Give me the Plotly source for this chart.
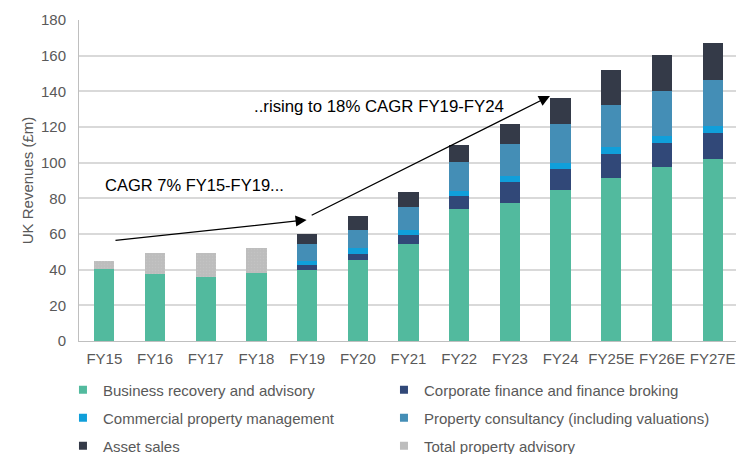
import plotly.graph_objects as go

years = ["FY15", "FY16", "FY17", "FY18", "FY19", "FY20", "FY21",
         "FY22", "FY23", "FY24", "FY25E", "FY26E", "FY27E"]

# UK revenues by segment (GBPm)
business_recovery = [40.5, 37.6, 35.9, 38.1, 39.8, 45.6, 54.2, 73.8, 77.2, 84.7, 91.6, 97.4, 102.1]
corporate_finance = [None, None, None, None, 2.6, 3.2, 5.2, 7.5, 12.1, 11.6, 13.3, 13.8, 14.7]
commercial_property = [None, None, None, None, 2.5, 3.2, 2.8, 2.6, 3.4, 3.3, 3.9, 3.9, 3.9]
property_consultancy = [None, None, None, None, 9.3, 10.2, 12.8, 16.3, 18.0, 21.9, 23.5, 25.1, 25.7]
asset_sales = [None, None, None, None, 5.8, 8.1, 8.6, 9.7, 10.8, 14.9, 19.7, 20.0, 20.5]
total_property_advisory = [4.4, 11.9, 13.6, 13.9, None, None, None, None, None, None, None, None, None]

# (name, values, colour, legend slot) - legend laid out as a 2-column grid
series = [
    ("Business recovery and advisory", business_recovery, "#52BA9E", 0, 0),
    ("Corporate finance and finance broking", corporate_finance, "#314878", 1, 0),
    ("Commercial property management", commercial_property, "#109FDA", 0, 1),
    ("Property consultancy (including valuations)", property_consultancy, "#448EB6", 1, 1),
    ("Asset sales", asset_sales, "#343A48", 0, 2),
    ("Total property advisory", total_property_advisory, "#BDBDBD", 1, 2),
]

FONT = "Liberation Sans, Arial, sans-serif"
GREY_TEXT = "#595959"

legend_cols = [-0.0244, 0.4642]
legend_rows = [-0.1526, -0.2399, -0.3271]

fig = go.Figure()
legend_layout = {}

for i, (name, values, color, col, row) in enumerate(series):
    marker = dict(color=color, line=dict(width=0))
    if name == "Total property advisory":
        marker["pattern"] = dict(shape=".", fgcolor="#C9C9C9", bgcolor=color,
                                 size=3, solidity=0.2)
    fig.add_trace(go.Bar(x=years, y=values, name=name, marker=marker,
                         showlegend=False))
    # one small legend per entry so the grid lines up like the original
    key = "legend" if i == 0 else f"legend{i + 1}"
    fig.add_trace(go.Scatter(x=[None], y=[None], mode="markers", name=name,
                             marker=dict(symbol="square", size=8, color=color),
                             legend=key))
    legend_layout[key] = dict(x=legend_cols[col], y=legend_rows[row],
                              xanchor="left", yanchor="middle",
                              bgcolor="rgba(0,0,0,0)",
                              font=dict(family=FONT, size=15, color=GREY_TEXT))

# growth arrows
fig.add_annotation(x=3.99, y=67.9, ax=0.19, ay=56.3, xref="x", yref="y",
                   axref="x", ayref="y", showarrow=True, arrowhead=2,
                   arrowsize=1.7, arrowwidth=1.3, arrowcolor="#000000", text="")
fig.add_annotation(x=8.79, y=137.4, ax=4.06, ay=70.1, xref="x", yref="y",
                   axref="x", ayref="y", showarrow=True, arrowhead=2,
                   arrowsize=1.7, arrowwidth=1.3, arrowcolor="#000000", text="")

fig.add_annotation(x=-0.03, y=87.5, xref="x", yref="y", xanchor="left",
                   yanchor="middle", showarrow=False,
                   text="CAGR 7% FY15-FY19...",
                   font=dict(family=FONT, size=16.5, color="#000000"))
fig.add_annotation(x=2.91, y=131.6, xref="x", yref="y", xanchor="left",
                   yanchor="middle", showarrow=False,
                   text="..rising to 18% CAGR FY19-FY24",
                   font=dict(family=FONT, size=16.8, color="#000000"))

fig.update_layout(
    width=736, height=454,
    margin=dict(l=79, r=0, t=20, b=113, autoexpand=False),
    barmode="stack", bargap=0.6,
    plot_bgcolor="white", paper_bgcolor="white",
    font=dict(family=FONT, size=15, color=GREY_TEXT),
    xaxis=dict(range=[-0.5, 12.46], showgrid=False, showline=True,
               linecolor="#BFBFBF", linewidth=1, ticks="", ticklabelstandoff=4,
               tickfont=dict(family=FONT, size=15, color=GREY_TEXT)),
    yaxis=dict(range=[0, 180], tickmode="linear", tick0=0, dtick=20,
               showgrid=True, gridcolor="#D9D9D9", gridwidth=1.5,
               showline=True, linecolor="#BFBFBF", linewidth=1,
               zeroline=False, ticks="", ticklabelstandoff=9,
               tickfont=dict(family=FONT, size=15, color=GREY_TEXT),
               title=dict(text="UK Revenues (£m)", standoff=3,
                          font=dict(family=FONT, size=15, color=GREY_TEXT))),
    **legend_layout,
)

# drop the browser's default body margin so the figure sits at the window corner
fig.write_html("out.html", config={"displayModeBar": False},
               post_script="document.body.style.margin = '0';")
